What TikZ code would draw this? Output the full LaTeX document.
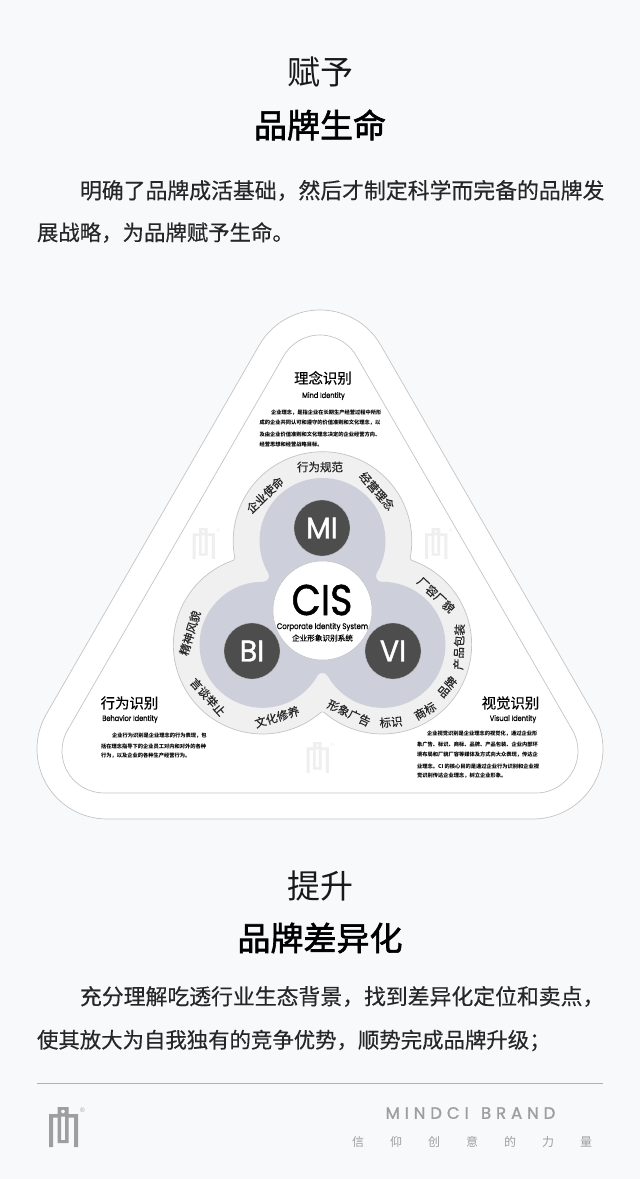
\documentclass[tikz,border=0pt]{standalone}
\usepackage{fontspec}
\usepackage{graphicx}
\setmainfont{Poppins}
\newfontfamily\cjk{Noto Sans CJK SC}
\newfontfamily\cjkm[FakeBold=.35]{Noto Sans CJK SC}
\newfontfamily\cjkb[FakeBold=1.8]{Noto Sans CJK SC}
\newfontfamily\latm[FakeBold=.7]{Poppins}
\newfontfamily\latb[FakeBold=1.3]{Poppins}
\newfontfamily\lats{Liberation Sans}
\definecolor{bgc}{HTML}{F8F9FB}
\definecolor{edgec}{HTML}{C4C4C4}
\definecolor{ringc}{HTML}{F0F0F0}
\definecolor{lobec}{HTML}{CDD0DA}
\definecolor{darkc}{HTML}{4D4D4D}
\definecolor{wmc}{HTML}{EFEFEF}
\definecolor{footc}{HTML}{9E9E9E}
\newcommand\fs[1]{\fontsize{#1}{#1}\selectfont}
\tikzset{
  lbl/.style={inner sep=0pt,outer sep=0pt},
  title/.style={lbl,font=\cjk\fs{33},text=black!90},
  titleb/.style={lbl,font=\cjkb\fs{33},text=black},
  para/.style={lbl,anchor=west,font=\cjkm\fs{21.85},text=black!85},
  paral/.style={lbl,anchor=west,font=\cjkm\fs{21.4},text=black!85},
  head/.style={lbl,font=\cjkm\fs{14.4},text=black},
  eng/.style={lbl,font=\latm\fs{7.8},text=black},
  small/.style={lbl,anchor=west,font=\cjk\bfseries\fs{5.25},text=black},
  ring/.style={lbl,font=\cjkm\fs{11.5},text=black!85},
  badge/.style={circle,fill=darkc,draw=edgec,line width=.3pt,minimum size=56pt,inner sep=0pt,text=white,font=\latb\fs{30}},
}
% rounded triangle: top y, left x, right x, bottom y, radius, style
\newcommand\rtri[6]{%
  \pgfmathsetmacro\tcx{(#2+#3)/2}
  \draw[#6] ({\tcx+#5*cos(30)},{#1+#5-#5*sin(30)})
    arc[start angle=30,end angle=150,radius=#5 pt]
    -- ({#2+#5+#5*cos(150)},{#4-#5-#5*sin(150)})
    arc[start angle=150,end angle=270,radius=#5 pt]
    -- ({#3-#5},#4)
    arc[start angle=270,end angle=390,radius=#5 pt]
    -- cycle;}
% trefoil: lobe radius, fillet radius, style
\newcommand\blob[3]{%
  \pgfmathsetmacro\bD{34.5+sqrt((#1+#2)*(#1+#2)-3600)}
  \pgfmathsetmacro\ba{atan2(\bD/2-69,\bD*0.866)}
  \pgfmathsetmacro\bx{322.5+#1*cos(\ba)}
  \pgfmathsetmacro\by{541-#1*sin(\ba)}
  \draw[#3] (\bx,\by)
    arc[start angle=\ba,end angle=180-\ba,radius=#1 pt]
    arc[start angle=360-\ba,end angle=\ba+300,radius=#2 pt]
    arc[start angle=\ba+120,end angle=300-\ba,radius=#1 pt]
    arc[start angle=480-\ba,end angle=\ba+420,radius=#2 pt]
    arc[start angle=\ba+240,end angle=420-\ba,radius=#1 pt]
    arc[start angle=600-\ba,end angle=\ba+540,radius=#2 pt]
    -- cycle;}
% logo mark: x, y, scale, colour
\newcommand\logomark[4]{%
  \begin{scope}[shift={(#1,#2)},scale=#3,transform shape]
    \fill[#4] (0,7) rectangle (4,40) (25,7) rectangle (29,40)
      (0,7) rectangle (9,10.5) (19,7) rectangle (29,10.5);
    \fill[#4,even odd rule] (8.5,0) rectangle (19.5,36)
      (12,9.5) rectangle (16,33)
      (14,4.5) circle[radius=2pt];
    \node[lbl,text=#4,font=\lats\fs{6.5}] at (33.5,3) {®};
  \end{scope}}
\begin{document}
\begin{tikzpicture}[x=1pt,y=-1pt]
\useasboundingbox (0,0) rectangle (640,1179);
\fill[bgc] (0,0) rectangle (640,1179);
\node[title] (t1) at (320,72) {赋予};
\node[titleb] (t2) at (320,125) {品牌生命};
\node[para] (p1) at (80,190.5) {明确了品牌成活基础，然后才制定科学而完备的品牌发};
\node[paral] (p2) at (37,232.5) {展战略，为品牌赋予生命。};

\rtri{310}{37}{603}{819}{70}{fill=white,draw=edgec,line width=.7pt}
\rtri{335}{62}{578}{793}{42}{fill=white,draw=edgec,line width=.7pt}

\logomark{192.5}{528}{.77}{wmc}
\logomark{425}{528}{.77}{wmc}
\logomark{306.5}{742}{.77}{wmc}

\blob{89.3}{2}{fill=ringc,draw=edgec,line width=.7pt}
\blob{63}{5.9}{fill=lobec,draw=none}

\node[circle,fill=white,draw=edgec,line width=.5pt,minimum size=99pt,inner sep=0pt] (cis) at (322.5,610.5) {};
\node[badge] (mi) at (322,528) {\scalebox{.95}[1]{MI}};
\node[badge] (bi) at (252,651) {\scalebox{.95}[1]{BI}};
\node[badge] (vi) at (393,651) {\scalebox{.95}[1]{VI}};
\node[lbl,font=\latb\fs{43},text=black] (cist) at (322,600) {\scalebox{.88}[1]{CIS}};
\node[lbl,font=\latm\fs{8.2},text=black] (cise) at (322.5,627) {\scalebox{.85}[1]{Corporate Identity System}};
\node[lbl,font=\cjkm\fs{7.6},text=black] (cisc) at (322.5,638) {企业形象识别系统};

\node[ring] (r1) at (320,467) {行为规范};
\node[ring,rotate=44] (r2) at (265,495) {企业使命};
\node[ring,rotate=-49] (r3) at (377,491) {经营理念};
\node[ring,rotate=-43] (r4) at (436,595) {厂容厂貌};
\node[ring,rotate=88] (r5) at (459,647) {产品包装};
\node[ring,rotate=50] (r6) at (447,687) {品牌};
\node[ring,rotate=30] (r7) at (425,711) {商标};
\node[ring,rotate=5] (r8) at (391,722) {标识};
\node[ring,rotate=-25] (r9) at (349,713) {形象广告};
\node[ring,rotate=17] (r10) at (277,717) {文化修养};
\node[ring,rotate=-48] (r11) at (208,697) {言谈举止};
\node[ring,rotate=73] (r12) at (190,633) {精神风貌};

\node[head] (h1) at (323,378) {理念识别};
\node[eng] (e1) at (323.5,396) {\scalebox{.85}[1]{Mind Identity}};
\node[small] (s11) at (271,413) {企业理念，是指企业在长期生产经营过程中所形};
\node[small] (s12) at (259.5,423) {成的企业共同认可和遵守的价值准则和文化理念，以};
\node[small] (s13) at (259.5,434) {及由企业价值准则和文化理念决定的企业经营方向、};
\node[small] (s14) at (259.5,444) {经营思想和经营战略目标。};

\node[head] (h2) at (129.5,703) {行为识别};
\node[eng] (e2) at (130,719) {\scalebox{.85}[1]{Behavior Identity}};
\node[small] (s21) at (112,736) {企业行为识别是企业理念的行为表现，包};
\node[small] (s22) at (101,746) {括在理念指导下的企业员工对内和对外的各种};
\node[small] (s23) at (101,756) {行为，以及企业的各种生产经营行为。};

\node[head] (h3) at (510.5,703) {视觉识别};
\node[eng] (e3) at (513,719) {\scalebox{.85}[1]{Visual Identity}};
\node[small] (s31) at (427,734) {企业视觉识别是企业理念的视觉化，通过企业形};
\node[small] (s32) at (417,745) {象广告、标识、商标、品牌、产品包装、企业内部环};
\node[small] (s33) at (417,755) {境布局和厂貌厂容等媒体及方式向大众表现，传达企};
\node[small] (s34) at (417,766) {业理念。CI 的核心目的是通过企业行为识别和企业视};
\node[small] (s35) at (417,776) {觉识别传达企业理念，树立企业形象。};

\node[title] (t3) at (320,886) {提升};
\node[titleb] (t4) at (320,938) {品牌差异化};
\node[para] (p3) at (80,996.5) {充分理解吃透行业生态背景，找到差异化定位和卖点，};
\node[paral] (p4) at (37,1040.5) {使其放大为自我独有的竞争优势，顺势完成品牌升级；};

\coordinate (fl) at (37,1083.5);
\coordinate (fr) at (603,1083.5);
\draw[footc!80,line width=1.5pt] (fl) -- (fr);
\logomark{49}{1107}{1}{footc}
\node[lbl,font=\latb\fs{16.5},text=footc] (b1) at (470.5,1113) {\addfontfeature{LetterSpace=30}MINDCI\hspace{3pt} BRAND};
\foreach \cx/\ch [count=\i] in {358/信,396/仰,434/创,472/意,510/的,548/力,586/量}
  \node[lbl,font=\cjk\fs{12},text=footc] (b2\i) at (\cx,1142) {\ch};
\end{tikzpicture}
\end{document}
